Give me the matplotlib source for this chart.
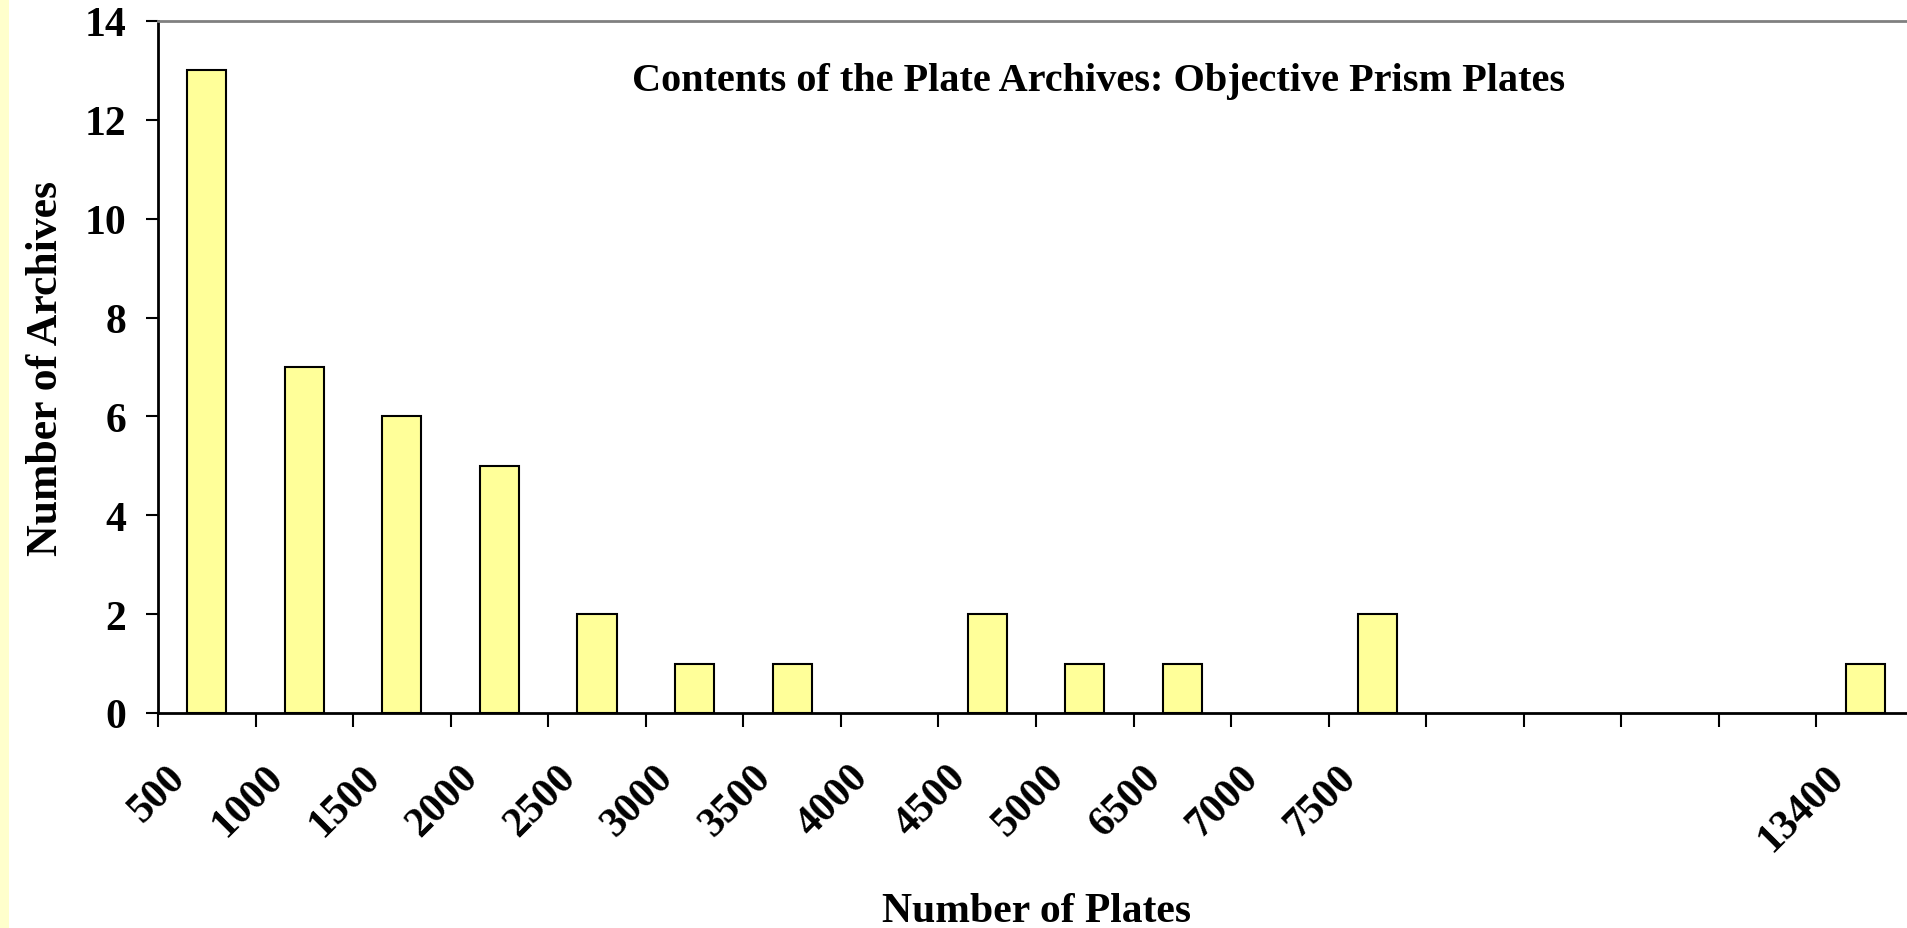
import matplotlib
matplotlib.use("Agg")
import matplotlib.pyplot as plt
import matplotlib.transforms as mtransforms
from matplotlib.patches import Rectangle
import numpy as np

# plate-count bins (empty strings are unlabelled bins)
categories = ["500", "1000", "1500", "2000", "2500", "3000", "3500", "4000",
              "4500", "5000", "6500", "7000", "7500", "", "", "", "", "13400"]
archives = [13, 7, 6, 5, 2, 1, 1, 0, 2, 1, 1, 0, 2, 0, 0, 0, 0, 1]
y_ticks = [0, 2, 4, 6, 8, 10, 12, 14]

plt.rcParams["font.family"] = ["Liberation Serif", "DejaVu Serif"]
plt.rcParams["font.weight"] = "bold"

fig = plt.figure(figsize=(19.07, 9.29), dpi=100)
fig.patch.set_facecolor("white")
# pale yellow strip on the left edge
fig.patches.append(Rectangle((0, 0), 9 / 1907, 1, transform=fig.transFigure,
                             facecolor="#FFFFCC", edgecolor="none", zorder=0))

ax = fig.add_axes([158 / 1907, 215 / 929, 1756 / 1907, 692 / 929])
x = np.arange(len(categories))
edges = ["black" if v > 0 else "none" for v in archives]
ax.bar(x, archives, width=0.4, color="#FFFF99", edgecolor=edges,
       linewidth=1.5, zorder=3)

ax.set_xlim(-0.5, len(categories) - 0.5)
ax.set_ylim(0, 14)
ax.set_yticks(y_ticks)
ax.set_yticklabels([str(v) for v in y_ticks], fontsize=30, fontweight="bold")
ax.tick_params(axis="y", direction="out", length=9, width=1.5, pad=14)

# tick marks between categories, labels under each category
ax.set_xticks(np.arange(len(categories) + 1) - 0.5, minor=True)
ax.set_xticks(x)
ax.set_xticklabels(categories, fontsize=30, fontweight="bold", rotation=45,
                   ha="right", va="center", rotation_mode="anchor")
ax.tick_params(axis="x", which="major", length=0, pad=42)
ax.tick_params(axis="x", which="minor", direction="out", length=10, width=1.5)
shift = mtransforms.ScaledTranslation(-0.27, 0, fig.dpi_scale_trans)
for lbl in ax.get_xticklabels():
    lbl.set_transform(lbl.get_transform() + shift)

for side in ["left", "bottom"]:
    ax.spines[side].set_linewidth(2)
ax.spines["top"].set_color("#808080")
ax.spines["top"].set_linewidth(2)
ax.spines["right"].set_visible(False)

ax.set_xlabel("Number of Plates", fontsize=30, fontweight="bold", labelpad=24)
ax.set_ylabel("Number of Archives", fontsize=31.5, fontweight="bold", labelpad=13)

fig.text(1099 / 1907, 1 - 82 / 929,
         "Contents of the Plate Archives: Objective Prism Plates",
         fontsize=29, fontweight="bold", ha="center", va="center")

fig.savefig("out.png", dpi=100)
